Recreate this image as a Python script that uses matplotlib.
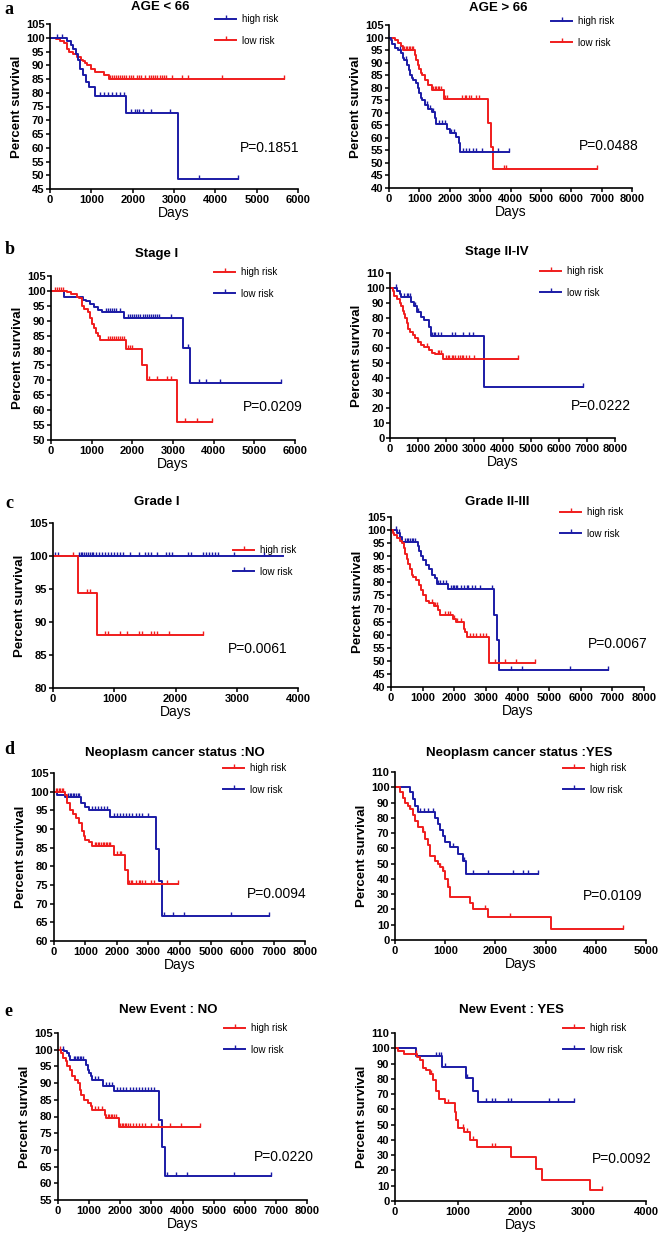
import numpy as np
import matplotlib
matplotlib.use('Agg')
import matplotlib.pyplot as plt
from matplotlib.lines import Line2D

plt.rcParams['font.family'] = ['Liberation Sans', 'DejaVu Sans']

BLUE = '#1b1ba6'
RED = '#f01d1d'

# ---------------- data ----------------
# a-left: AGE < 66 (high risk blue, low risk red)
a1_hi_t = [0, 400, 500, 560, 620, 680, 720, 800, 880, 950, 1090, 1850, 3100, 4550]
a1_hi_s = [100, 99, 97.5, 96, 94, 92, 88.5, 86.5, 84, 82, 79, 72.7, 48.5, 48.5]
a1_hi_c = [180, 290, 1200, 1300, 1400, 1500, 1600, 1700, 1800, 1950, 2050, 2100, 2150,
           2250, 2450, 2900, 3600, 4550]
a1_lo_t = [0, 150, 250, 330, 400, 450, 550, 650, 750, 800, 850, 900, 1000, 1080, 1300, 1420, 5650]
a1_lo_s = [100, 99.5, 99, 98, 96, 95, 94, 93, 92, 91.5, 91, 90, 88.5, 87.5, 86.5, 85, 85]
a1_lo_c = [1450, 1500, 1550, 1600, 1650, 1700, 1750, 1800, 1850, 1900, 1950, 2000, 2100, 2150,
           2200, 2300, 2400, 2450, 2500, 2550, 2600, 2650, 2700, 2750, 2800, 2950, 3200, 3350,
           4150, 5650]

# a-right: AGE > 66
a2_hi_t = [0, 50, 100, 200, 300, 400, 450, 500, 600, 650, 700, 750, 800, 900, 950, 1000, 1050,
           1100, 1200, 1300, 1400, 1500, 1550, 1900, 2000, 2200, 2300, 2350, 3950]
a2_hi_s = [100, 99, 97.5, 96, 95, 94, 92, 91, 89, 87, 85, 84, 83, 82, 80, 78, 76, 75, 73, 71.5,
           70.5, 68, 65.5, 63.5, 62, 60.5, 58, 54.5, 54.5]
a2_hi_c = [350, 550, 1250, 1350, 1450, 1650, 1750, 1850, 2050, 2150, 2450, 2550, 2650, 2750,
           2850, 3050, 3600, 3950]
a2_lo_t = [0, 200, 300, 400, 450, 850, 900, 950, 1000, 1050, 1100, 1200, 1300, 1400, 1800,
           3250, 3350, 3420, 6850]
a2_lo_s = [100, 99, 98, 96.5, 95, 93, 91, 89, 87.5, 86, 85, 83, 81, 79, 75.5, 66, 56.5, 47.5, 47.5]
a2_lo_c = [500, 550, 600, 650, 700, 750, 800, 1450, 1500, 1550, 1600, 1650, 1700, 1850, 1900,
           2400, 2500, 2550, 2650, 2700, 2850, 2950, 3800, 3850, 6850]

# b-left: Stage I (high risk red, low risk blue)
b1_hi_t = [0, 400, 500, 650, 700, 750, 820, 900, 950, 1000, 1050, 1100, 1150, 1200, 1850, 2230,
           2350, 3100, 3950]
b1_hi_s = [100, 99.5, 99, 98, 97.5, 95, 94, 93, 91, 89, 87.5, 86, 85, 83.5, 80.5, 75, 70, 56, 56]
b1_hi_c = [100, 150, 200, 250, 300, 1400, 1450, 1500, 1550, 1600, 1650, 1700, 1750, 1800, 1900,
           1950, 2000, 2400, 2600, 2850, 2950, 3300, 3600, 3950]
b1_lo_t = [0, 330, 780, 850, 950, 1050, 1150, 1250, 1800, 3250, 3420, 5650]
b1_lo_s = [100, 98, 97, 96.5, 95.5, 94.5, 93.5, 93, 91, 81, 69, 69]
b1_lo_c = [1350, 1400, 1450, 1500, 1550, 1600, 1700, 1900, 1950, 2000, 2050, 2100, 2150, 2200,
           2250, 2300, 2350, 2400, 2450, 2500, 2550, 2600, 2650, 2950, 3380, 3650, 3800, 4150, 5650]

# b-right: Stage II-IV
b2_hi_t = [0, 100, 150, 250, 350, 400, 450, 500, 550, 600, 650, 700, 800, 900, 1000, 1100, 1200,
           1400, 1500, 1600, 1900, 4550]
b2_hi_s = [100, 98, 95, 93, 90, 88, 85, 83, 80, 77, 73, 71, 69, 67, 64, 62, 61, 59, 57, 56, 53, 53]
b2_hi_c = [1000, 1300, 1700, 1750, 1800, 2000, 2050, 2100, 2200, 2250, 2300, 2400, 2500, 2550,
           2600, 2700, 2800, 3000, 4550]
b2_lo_t = [0, 250, 350, 400, 750, 850, 950, 1100, 1200, 1400, 1450, 3350, 6850]
b2_lo_s = [100, 98, 96, 94, 91, 88, 84, 81, 79, 74, 68, 34, 34]
b2_lo_c = [200, 500, 600, 650, 700, 900, 1000, 1500, 1550, 1600, 1700, 1800, 2200, 2300, 2600,
           2800, 2950, 6850]

# c-left: Grade I
c1_hi_t = [0, 400, 720, 2450]
c1_hi_s = [100, 94.4, 88.1, 88.1]
c1_hi_c = [320, 550, 610, 850, 900, 1100, 1200, 1400, 1450, 1600, 1650, 1700, 1900, 2450]
c1_lo_t = [0, 3750]
c1_lo_s = [100, 100]
c1_lo_c = [30, 80, 420, 450, 480, 510, 540, 570, 600, 630, 660, 700, 750, 800, 850, 900, 950,
           1000, 1050, 1100, 1150, 1250, 1400, 1500, 1550, 1600, 1700, 1850, 1900, 1950, 2200,
           2250, 2450, 2500, 2550, 2600, 2650, 2700, 2950, 3450]

# c-right: Grade II-III
c2_hi_t = [0, 50, 100, 200, 300, 350, 400, 450, 500, 550, 600, 650, 700, 800, 900, 950, 1000,
           1100, 1200, 1350, 1500, 1550, 1950, 2050, 2300, 2350, 2400, 3100, 4550]
c2_hi_s = [100, 99, 98, 97, 96, 95, 93, 91, 89, 87, 85, 83, 82, 81, 79, 77, 75, 73, 72, 71, 69.5,
           67.5, 66, 65, 62, 61, 59, 49, 49]
c2_hi_c = [1300, 1400, 1450, 1700, 1800, 1850, 2000, 2100, 2200, 2500, 2600, 2700, 2800, 2900,
           3000, 3300, 3600, 3950, 4550]
c2_lo_t = [0, 200, 300, 350, 850, 900, 950, 1000, 1100, 1200, 1300, 1400, 1450, 1800, 3250, 3350,
           3420, 6850]
c2_lo_s = [100, 99, 97.5, 95.5, 94, 92, 90, 88.5, 86.5, 85, 83, 81.5, 79.5, 77.5, 67.5, 58, 46.5,
           46.5]
c2_lo_c = [150, 250, 450, 500, 550, 600, 650, 700, 750, 1500, 1550, 1650, 1750, 1900, 1950, 2000,
           2050, 2100, 2200, 2300, 2400, 2450, 2550, 2650, 2800, 3200, 3800, 4150, 5650, 6850]

# d-left: Neoplasm cancer status :NO
d1_hi_t = [0, 350, 420, 500, 600, 700, 800, 900, 950, 1000, 1100, 1200, 1900, 2250, 2350, 3950]
d1_hi_s = [100, 99, 97, 95, 94, 93, 91.5, 89.5, 88, 87, 86.5, 85.5, 83, 79, 75.3, 75.3]
d1_hi_c = [50, 100, 150, 200, 250, 300, 1300, 1350, 1400, 1450, 1500, 1550, 1600, 1650, 1700,
           1750, 1800, 2000, 2100, 2150, 2400, 2450, 2500, 2600, 2700, 2750, 2800, 2900, 3100,
           3200, 3600, 3950]
d1_lo_t = [0, 100, 350, 850, 1000, 1100, 1800, 3250, 3350, 3450, 6850]
d1_lo_s = [100, 99, 98.5, 97, 96, 95, 93.2, 84.7, 76, 66.7, 66.7]
d1_lo_c = [450, 500, 550, 600, 650, 700, 750, 800, 1200, 1300, 1400, 1500, 1600, 1700, 1900, 2000,
           2100, 2200, 2300, 2400, 2500, 2600, 2700, 2800, 3000, 3500, 3800, 4150, 5650, 6850]

# d-right: Neoplasm cancer status :YES
d2_hi_t = [0, 100, 150, 200, 250, 300, 350, 400, 450, 550, 600, 650, 700, 800, 850, 900, 950, 1000,
           1050, 1100, 1500, 1550, 1850, 3100, 4550]
d2_hi_s = [100, 97, 93, 90, 88, 86, 82, 78, 74, 71, 66, 62, 55, 52, 50, 48, 45, 40, 35, 28, 24, 20,
           15, 7.5, 7.5]
d2_hi_c = [300, 550, 900, 950, 1050, 1800, 2300, 4550]
d2_lo_t = [0, 300, 350, 400, 450, 800, 850, 900, 950, 1000, 1100, 1250, 1350, 1420, 2850]
d2_lo_s = [100, 97, 92, 88, 84, 80, 76, 72, 68, 64, 61, 56, 52, 43, 43]
d2_lo_c = [500, 580, 650, 750, 1150, 1380, 1550, 1850, 2350, 2550, 2650, 2850]

# e-left: New Event : NO
e1_hi_t = [0, 100, 150, 250, 300, 400, 450, 550, 650, 700, 750, 850, 950, 1050, 1100, 1500, 1550,
           1950, 4550]
e1_hi_s = [100, 99, 97.5, 96.5, 95, 94, 92, 91, 90, 88, 86.5, 85, 84, 83, 82, 80.5, 79.5, 77, 77]
e1_hi_c = [50, 1200, 1300, 1400, 1600, 1650, 1700, 1750, 1800, 1850, 2000, 2050, 2100, 2150, 2200,
           2250, 2300, 2400, 2500, 2600, 2700, 2800, 3000, 3200, 3600, 3950, 4550]
e1_lo_t = [0, 200, 300, 350, 400, 900, 950, 1000, 1050, 1100, 1450, 1800, 3250, 3350, 3450, 6850]
e1_lo_s = [100, 99.5, 99, 98, 97, 95.5, 94, 93, 92, 91, 89, 87.5, 79, 71, 62.3, 62.3]
e1_lo_c = [150, 500, 550, 600, 650, 700, 750, 800, 1200, 1300, 1550, 1650, 1750, 1900, 2000, 2100,
           2200, 2300, 2400, 2500, 2600, 2700, 2800, 2900, 3000, 3100, 3500, 3800, 4150, 5650, 6850]

# e-right: New Event : YES
e2_hi_t = [0, 50, 150, 350, 400, 450, 500, 550, 600, 650, 700, 800, 950, 980, 1000, 1100, 1200,
           1300, 1850, 2250, 2350, 3100, 3300]
e2_hi_s = [100, 98, 96, 94, 92, 87, 86, 83, 79, 72, 67, 64, 58, 53, 48, 45, 40, 35.5, 28.5, 21, 14,
           7, 7]
e2_hi_c = [330, 580, 850, 1080, 1150, 1250, 1550, 1600, 3300]
e2_lo_t = [0, 330, 750, 1130, 1250, 1320, 2850]
e2_lo_s = [100, 94.7, 87.5, 80.5, 72, 64.5, 64.5]
e2_lo_c = [650, 700, 730, 800, 1150, 1450, 1550, 1600, 1800, 1850, 2450, 2600, 2850]

titles = ['AGE < 66', 'AGE > 66', 'Stage I', 'Stage II-IV', 'Grade I', 'Grade II-III',
          'Neoplasm cancer status :NO', 'Neoplasm cancer status :YES',
          'New Event : NO', 'New Event : YES']
p_values = ['P=0.1851', 'P=0.0488', 'P=0.0209', 'P=0.0222', 'P=0.0061', 'P=0.0067',
            'P=0.0094', 'P=0.0109', 'P=0.0220', 'P=0.0092']
x_max = [6000, 8000, 6000, 8000, 4000, 8000, 8000, 5000, 8000, 4000]
y_min = [45, 40, 50, 0, 80, 40, 60, 0, 55, 0]
y_max = [105, 105, 105, 110, 105, 105, 105, 110, 105, 110]
y_step = [5, 5, 5, 10, 5, 5, 5, 10, 5, 10]
panel_letters = ['a', 'b', 'c', 'd', 'e']
labels = ['high risk', 'low risk']

high_curves = [(a1_hi_t, a1_hi_s, a1_hi_c), (a2_hi_t, a2_hi_s, a2_hi_c),
               (b1_hi_t, b1_hi_s, b1_hi_c), (b2_hi_t, b2_hi_s, b2_hi_c),
               (c1_hi_t, c1_hi_s, c1_hi_c), (c2_hi_t, c2_hi_s, c2_hi_c),
               (d1_hi_t, d1_hi_s, d1_hi_c), (d2_hi_t, d2_hi_s, d2_hi_c),
               (e1_hi_t, e1_hi_s, e1_hi_c), (e2_hi_t, e2_hi_s, e2_hi_c)]
low_curves = [(a1_lo_t, a1_lo_s, a1_lo_c), (a2_lo_t, a2_lo_s, a2_lo_c),
              (b1_lo_t, b1_lo_s, b1_lo_c), (b2_lo_t, b2_lo_s, b2_lo_c),
              (c1_lo_t, c1_lo_s, c1_lo_c), (c2_lo_t, c2_lo_s, c2_lo_c),
              (d1_lo_t, d1_lo_s, d1_lo_c), (d2_lo_t, d2_lo_s, d2_lo_c),
              (e1_lo_t, e1_lo_s, e1_lo_c), (e2_lo_t, e2_lo_s, e2_lo_c)]

# ---------------- layout (pixels) ----------------
W, H = 662, 1240
axes_px = [(50, 298, 24, 189), (389, 632, 25, 188),
           (51, 295, 276, 440), (390, 615, 273, 438),
           (53, 298, 523, 688), (391, 644, 517, 687),
           (54, 305, 773, 941), (395, 646, 772, 940),
           (58, 307, 1033, 1200), (395, 646, 1033, 1201)]
title_px = [(160, 7), (498, 8), (157, 254), (497, 252), (157, 502), (497, 502),
            (175, 753), (519, 753), (168, 1010), (511, 1010)]
pval_pos = [(4600, 59.9), (6260, 56.6), (4726, 61.1), (6420, 21.1), (2857, 85.9),
            (6210, 56.3), (6133, 72.6), (3752, 28.8), (6283, 68.0), (3135, 27.8)]
legend_px = [(215, 20), (551, 22), (214, 273), (540, 272), (233, 551), (560, 513),
             (223, 769), (563, 769), (224, 1029), (563, 1029)]
letter_px = [(4, 10), (5, 250), (5, 503), (4, 750), (4, 1011)]

fig = plt.figure(figsize=(W / 100, H / 100), dpi=100)
TICKUP = 2


def step_value(t, s, c):
    t = np.asarray(t, float)
    s = np.asarray(s, float)
    idx = np.searchsorted(t, c, side='right') - 1
    return s[np.clip(idx, 0, len(s) - 1)]


def draw_curve(ax, t, s, c, color):
    ax.step(t, s, where='post', color=color, lw=1.4, clip_on=False)
    c = np.asarray(c, float)
    ax.plot(c, step_value(t, s, c), ls='none', marker=TICKUP, ms=2.6, mew=1.0,
            color=color, clip_on=False)


for i in range(10):
    l, r, t, b = axes_px[i]
    ax = fig.add_axes([l / W, 1 - b / H, (r - l) / W, (b - t) / H])
    hi_col, lo_col = (BLUE, RED) if i < 2 else (RED, BLUE)
    draw_curve(ax, *low_curves[i], lo_col)
    draw_curve(ax, *high_curves[i], hi_col)

    ax.set_xlim(0, x_max[i])
    ax.set_ylim(y_min[i], y_max[i])
    ax.set_xticks(np.arange(0, x_max[i] + 1, 1000))
    ax.set_yticks(np.arange(y_min[i], y_max[i] + 0.1, y_step[i]))
    for sp in ['top', 'right']:
        ax.spines[sp].set_visible(False)
    for sp in ['left', 'bottom']:
        ax.spines[sp].set_linewidth(1.2)
    ax.tick_params(direction='out', length=3, width=1.1, labelsize=8, pad=1)
    for lab in ax.get_xticklabels() + ax.get_yticklabels():
        lab.set_fontweight('bold')
    ax.set_ylabel('Percent survival', fontsize=9.5, fontweight='bold', labelpad=2)
    ax.set_xlabel('Days', fontsize=10, labelpad=1)

    ax.text(pval_pos[i][0], pval_pos[i][1], p_values[i], fontsize=10, ha='left', va='center')

    tx, ty = title_px[i]
    fig.text(tx / W, 1 - ty / H, titles[i], ha='center', va='center',
             fontsize=9.5, fontweight='bold')

    handles = [Line2D([], [], color=hi_col, lw=1.4, marker=TICKUP, ms=3, mew=1.0),
               Line2D([], [], color=lo_col, lw=1.4, marker=TICKUP, ms=3, mew=1.0)]
    lx, ly = legend_px[i]
    ax.legend(handles, labels, loc='upper left',
              bbox_to_anchor=(lx / W, 1 - (ly - 6) / H), bbox_transform=fig.transFigure,
              frameon=False, borderpad=0, borderaxespad=0, handlelength=2.2,
              handletextpad=0.6, labelspacing=1.2, fontsize=7, numpoints=1)

for k, letter in enumerate(panel_letters):
    x, y = letter_px[k]
    fig.text(x / W, 1 - y / H, letter, ha='left', va='center', fontsize=13,
             fontweight='bold', family=['Liberation Serif', 'DejaVu Serif'])

fig.savefig('out.png', dpi=100)
